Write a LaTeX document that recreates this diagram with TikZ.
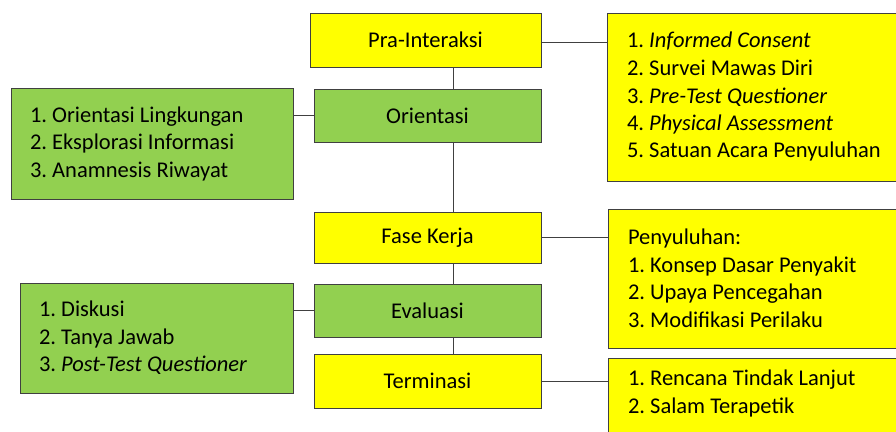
\documentclass[tikz,border=0pt]{standalone}
\usepackage{fontspec}
\setmainfont{Carlito}
\usetikzlibrary{positioning}

\definecolor{PhaseYellow}{HTML}{FFFF00}
\definecolor{PhaseGreen}{HTML}{92D050}
\definecolor{EdgeGray}{HTML}{404040}

\tikzset{
  BoxStyle/.style={rectangle, draw=EdgeGray, line width=1pt, inner sep=0pt,
    font=\fontsize{22.5}{27.5}\selectfont\frenchspacing},
  PhaseBox/.style={BoxStyle, minimum height=53pt, minimum width=227pt},
  ListBox/.style={BoxStyle, align=flush left, inner xsep=#1},
  ListBox/.default=19pt,
  EdgeStyle/.style={draw=EdgeGray, line width=1pt}
}

\begin{document}
\begin{tikzpicture}[x=1pt,y=-1pt]
            \useasboundingbox (0,0) rectangle (896,431);
            \clip (0,0) rectangle (896,431);
            \coordinate (spine) at (453,0);

            \node[PhaseBox,fill=PhaseYellow,minimum width=231pt,minimum height=54pt] (pra) at (425.5,40) {Pra-Interaksi};
            \node[PhaseBox,fill=PhaseGreen] (ori) at (427.5,115.5) {Orientasi};
            \node[PhaseBox,fill=PhaseYellow,minimum height=51pt] (fase) at (427.5,237.5) {Fase Kerja};
            \node[PhaseBox,fill=PhaseGreen] (eval) at (427.5,310.5) {Evaluasi};
            \node[PhaseBox,fill=PhaseYellow,minimum height=54pt] (term) at (427.5,381) {Terminasi};

            \node[ListBox,fill=PhaseGreen,text width=244pt,minimum height=111pt] (l1) at (152,143.5)
              {1. Orientasi Lingkungan\\2. Eksplorasi Informasi\\3. Anamnesis Riwayat};
            \node[ListBox,fill=PhaseGreen,text width=235pt,minimum height=110pt] (l2) at (156.5,338)
              {1. Diskusi\\2. Tanya Jawab\\3. \textit{Post-Test Questioner}};

            \node[ListBox=20pt,fill=PhaseYellow,text width=280pt,minimum height=168pt] (r1) at (767,97)
              {1. \textit{Informed Consent}\\2. Survei Mawas Diri\\3. \textit{Pre-Test Questioner}\\4. \textit{Physical Assessment}\\5. Satuan Acara Penyuluhan};
            \node[ListBox=20pt,fill=PhaseYellow,text width=280pt,minimum height=139pt] (r2) at (768,278.5)
              {Penyuluhan:\\1. Konsep Dasar Penyakit\\2. Upaya Pencegahan\\3. Modifikasi Perilaku};
            \node[BoxStyle,fill=PhaseYellow,minimum width=320pt,minimum height=100pt] (r3) at (768,408) {};
            \node[BoxStyle,draw=none,align=left,anchor=north west] (r3txt) at ([xshift=20pt,yshift=-12pt]r3.north west)
              {1. Rencana Tindak Lanjut\\2. Salam Terapetik};

            \draw[EdgeStyle] (pra.south -| spine) -- (ori.north -| spine);
            \draw[EdgeStyle] (ori.south -| spine) -- (fase.north -| spine);
            \draw[EdgeStyle] (fase.south -| spine) -- (eval.north -| spine);
            \draw[EdgeStyle] (eval.south -| spine) -- (term.north -| spine);

            \draw[EdgeStyle] ([yshift=-2pt]pra.east) -- ([yshift=-2pt]pra.east -| r1.west);
            \draw[EdgeStyle] (ori.west) -- (ori.west -| l1.east);
            \draw[EdgeStyle] (fase.east) -- (fase.east -| r2.west);
            \draw[EdgeStyle] (eval.west) -- (eval.west -| l2.east);
            \draw[EdgeStyle] (term.east) -- (term.east -| r3.west);
\end{tikzpicture}
\end{document}
